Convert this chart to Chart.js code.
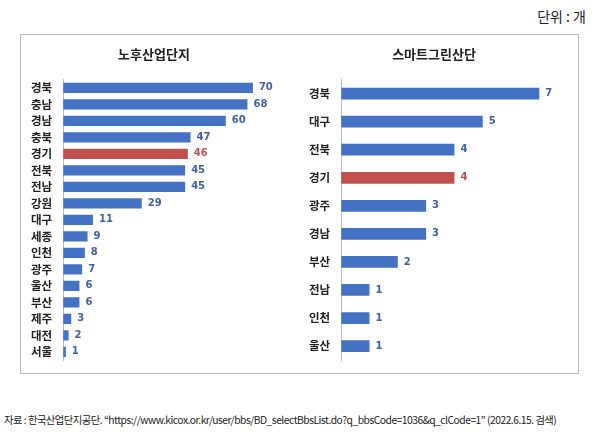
<!DOCTYPE html>
<html><head><meta charset="utf-8">
<script src="https://cdn.jsdelivr.net/npm/chart.js@4"></script>
<style>
body{margin:0;width:600px;height:441px;background:#fff;font-family:"Noto Sans CJK KR",sans-serif;position:relative;overflow:hidden}
#unit{position:absolute;right:14px;top:6px;font-size:14px;color:#222}
#box{position:absolute;left:20px;top:34px;width:557px;height:338px;border:1px solid #bbb}
.wrap{position:absolute;top:40px;height:330px}
#src{position:absolute;left:4px;top:412px;font-size:10.3px;color:#222;letter-spacing:-0.5px;white-space:nowrap}
</style></head><body>
<div id="unit">단위 : 개</div>
<div id="box"></div>
<div class="wrap" style="left:22px;width:268px"><canvas id="c1"></canvas></div>
<div class="wrap" style="left:300px;width:272px"><canvas id="c2"></canvas></div>
<div id="src">자료 : 한국산업단지공단. “https://www.kicox.or.kr/user/bbs/BD_selectBbsList.do?q_bbsCode=1036&amp;q_clCode=1” (2022.6.15. 검색)</div>
<script>
const oldRegions = ["경북","충남","경남","충북","경기","전북","전남","강원","대구","세종","인천","광주","울산","부산","제주","대전","서울"];
const oldValues = [70,68,60,47,46,45,45,29,11,9,8,7,6,6,3,2,1];
const smartRegions = ["경북","대구","전북","경기","광주","경남","부산","전남","인천","울산"];
const smartValues = [7,5,4,4,3,3,2,1,1,1];

const BLUE = "#4472C4", RED = "#C0504D";

const valueLabels = {
  id: "valueLabels",
  afterDatasetsDraw(chart) {
    const ctx = chart.ctx;
    const meta = chart.getDatasetMeta(0);
    ctx.save();
    ctx.font = "bold 10px 'DejaVu Sans'";
    ctx.textBaseline = "middle";
    meta.data.forEach((bar, i) => {
      const lbl = chart.data.labels[i];
      ctx.fillStyle = lbl === "경기" ? RED : "#3F63A8";
      ctx.fillText(chart.data.datasets[0].data[i], bar.x + 6, bar.y);
    });
    ctx.restore();
  }
};

function makeChart(id, title, labels, values, max, pct) {
  new Chart(document.getElementById(id), {
    type: "bar",
    data: {
      labels: labels,
      datasets: [{
        data: values,
        backgroundColor: labels.map(l => l === "경기" ? RED : BLUE),
        barPercentage: pct, categoryPercentage: 1
      }]
    },
    options: {
      indexAxis: "y",
      responsive: true, maintainAspectRatio: false, animation: false,
      layout: { padding: { left: 6, right: 10, bottom: 0 } },
      plugins: {
        legend: { display: false }, tooltip: { enabled: false },
        title: { display: true, text: title, color: "#222",
          font: { size: 13, weight: "bold", family: "'Noto Sans CJK KR'" }, padding: { top: 6, bottom: 18 } }
      },
      scales: {
        x: { display: false, min: 0, max: max },
        y: {
          grid: { display: false },
          border: { color: "#bbb" },
          ticks: { color: "#222", font: { size: 11.5, weight: "bold", family: "'Noto Sans CJK KR'" } }
        }
      }
    },
    plugins: [valueLabels]
  });
}
makeChart("c1", "노후산업단지", oldRegions, oldValues, 80, 0.62);
makeChart("c2", "스마트그린산단", smartRegions, smartValues, 7.8, 0.42);
</script>
</body></html>
